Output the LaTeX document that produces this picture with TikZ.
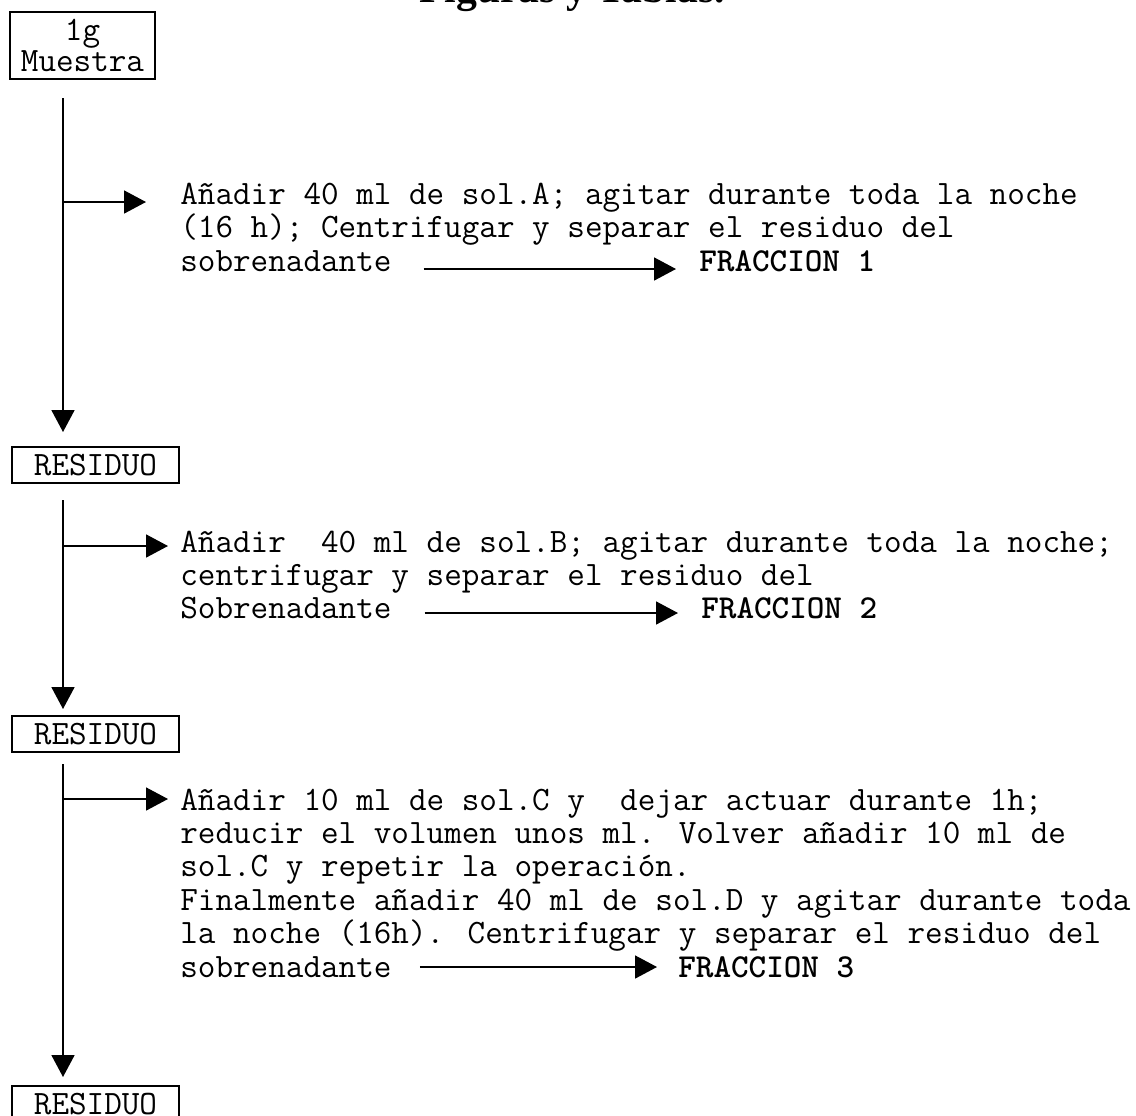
\documentclass[tikz,border=0pt]{standalone}
\usepackage{fontspec}
\setmainfont{Liberation Serif}
\usetikzlibrary{arrows.meta}
\begin{document}
\begin{tikzpicture}[x=0.6pt,y=-0.6pt,
  mono/.style={font=\ttfamily\fontsize{20.5pt}{20pt}\selectfont},
  txt/.style={mono, inner sep=0pt, anchor=base west},
  bold/.style={font=\ttfamily\bfseries\fontsize{20.1pt}{20pt}\selectfont, inner sep=0pt, anchor=base west},
  box/.style={draw, line width=1.2pt, inner sep=0pt, align=center,
    font=\ttfamily\fontsize{20.5pt}{18.5pt}\selectfont},
  arr/.style={line width=1pt, -{Triangle[length=13.2pt,width=13.8pt]}}
]
\clip (0,0) rectangle (1136,1115);
\fill[white] (0,0) rectangle (1136,1115);

% title (cut off at the top)
\node[font=\bfseries\fontsize{25pt}{30pt}\selectfont, anchor=base, inner sep=0pt] (title) at (572,2.5) {Figuras y Tablas.};

% boxes
\node[box, minimum width=87pt, minimum height=40.2pt] (m) at (82.5,45.5) {1g\\Muestra};
\node[box, minimum width=100.2pt, minimum height=21.6pt] (r1) at (95.5,465) {RESIDUO};
\node[box, minimum width=100.2pt, minimum height=21.6pt] (r2) at (95.5,734) {RESIDUO};
\node[box, minimum width=100.2pt, minimum height=21.6pt] (r3) at (95.5,1104) {RESIDUO};

\coordinate (vx) at (63,0);

% block 1
\node[txt] (t1) at (180,204) {\parbox[t]{640pt}{A\~nadir 40 ml de sol.A; agitar durante toda la noche\\(16 h); Centrifugar y separar el residuo del}};
\node[txt] (s1) at (180,271) {sobrenadante};
\node[bold] (f1) at (699,271) {FRACCION 1};

% block 2
\node[txt] (t2) at (180,552) {\parbox[t]{640pt}{A\~nadir\ \ 40 ml de sol.B; agitar durante toda la noche;\\centrifugar y separar el residuo del}};
\node[txt] (s2) at (180,618) {Sobrenadante};
\node[bold] (f2) at (701,618) {FRACCION 2};

% block 3
\node[txt] (t3) at (180,810) {\parbox[t]{640pt}{A\~nadir 10 ml de sol.C y\ \ dejar actuar durante 1h;\\reducir el volumen unos ml. Volver a\~nadir 10 ml de\\sol.C y repetir la operaci\'on.\\Finalmente a\~nadir 40 ml de sol.D y agitar durante toda\\la noche (16h). Centrifugar y separar el residuo del}};
\node[txt] (s3) at (180,977) {sobrenadante};
\node[bold] (f3) at (678,977) {FRACCION 3};

% main vertical arrows
\draw[arr, shorten <=10.8pt, shorten >=8.4pt] (m.south -| vx) -- (r1.north -| vx);
\draw[arr, shorten <=9.6pt, shorten >=3.6pt] (r1.south -| vx) -- (r2.north -| vx);
\draw[arr, shorten <=6.6pt, shorten >=4.8pt] (r2.south -| vx) -- (r3.north -| vx);

% branches
\coordinate (j1) at (63,202);
\coordinate (j2) at (63,546);
\coordinate (j3) at (63,799);
\draw[arr, shorten >=20.4pt] (j1) -- (j1 -| t1.base west);
\draw[arr, shorten >=7.2pt] (j2) -- (j2 -| t2.base west);
\draw[arr, shorten >=7.2pt] (j3) -- (j3 -| t3.base west);

% fraction arrows
\draw[arr, shorten <=19.1pt, shorten >=13.8pt] ([yshift=1.2pt]s1.base east) -- ([yshift=1.2pt]f1.base west);
\draw[arr, shorten <=19.7pt, shorten >=13.8pt] ([yshift=3pt]s2.base east) -- ([yshift=3pt]f2.base west);
\draw[arr, shorten <=16.8pt, shorten >=12.6pt] ([yshift=6pt]s3.base east) -- ([yshift=6pt]f3.base west);
\end{tikzpicture}
\end{document}
